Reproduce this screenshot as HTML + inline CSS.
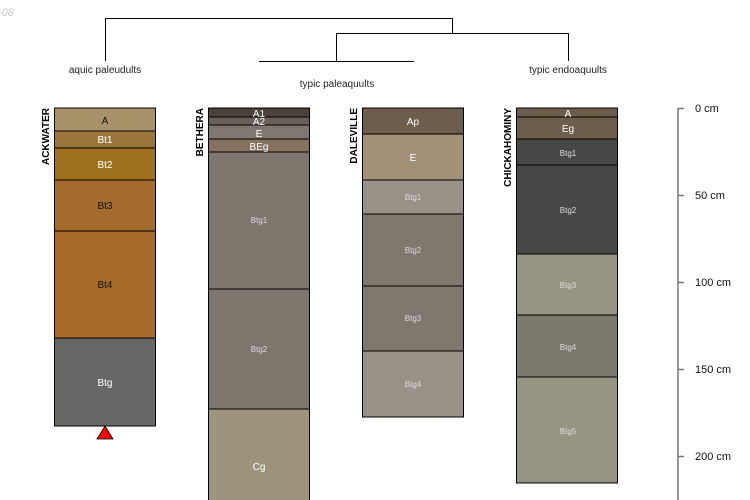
<!DOCTYPE html>
<html><head><meta charset="utf-8"><style>html,body{margin:0;padding:0;background:#fff}svg{display:block}</style></head>
<body>
<svg width="750" height="500" viewBox="0 0 750 500" xmlns="http://www.w3.org/2000/svg" font-family="Liberation Sans, sans-serif">
<text x="-2" y="16" font-size="11" fill="#c8c8c8" font-style="italic">-08</text>
<g stroke="#000" stroke-width="1" fill="none">
<path d="M105.5 61V18.5H452.5V33"/>
<path d="M336.5 61V33.5H568.5V61"/>
<path d="M259 61.5H414"/>
</g>
<g font-size="10" fill="#222" text-anchor="middle">
<text x="105" y="73">aquic paleudults</text>
<text x="337" y="87">typic paleaquults</text>
<text x="568" y="73">typic endoaquults</text>
</g>
<g stroke="#000" stroke-width="1">
<!-- ACKWATER -->
<rect x="54.5" y="108" width="101" height="23" fill="#a8926a"/>
<rect x="54.5" y="131" width="101" height="17" fill="#9a763c"/>
<rect x="54.5" y="148" width="101" height="32" fill="#a0711e"/>
<rect x="54.5" y="180" width="101" height="51" fill="#a46c2c"/>
<rect x="54.5" y="231" width="101" height="107" fill="#a86c2a"/>
<rect x="54.5" y="338" width="101" height="88" fill="#676866"/>
<!-- BETHERA -->
<rect x="208.5" y="108" width="101" height="9" fill="#4b433b"/>
<rect x="208.5" y="117" width="101" height="8" fill="#6a6055"/>
<rect x="208.5" y="125" width="101" height="14" fill="#807870"/>
<rect x="208.5" y="139" width="101" height="13" fill="#85735f"/>
<rect x="208.5" y="152" width="101" height="137" fill="#7f776e"/>
<rect x="208.5" y="289" width="101" height="120" fill="#7f776e"/>
<rect x="208.5" y="409" width="101" height="95" fill="#9e937b"/>
<!-- DALEVILLE -->
<rect x="362.5" y="108" width="101" height="26" fill="#6c5d4c"/>
<rect x="362.5" y="134" width="101" height="46" fill="#a29079"/>
<rect x="362.5" y="180" width="101" height="34" fill="#9a9286"/>
<rect x="362.5" y="214" width="101" height="72" fill="#80776d"/>
<rect x="362.5" y="286" width="101" height="65" fill="#80776d"/>
<rect x="362.5" y="351" width="101" height="66" fill="#9a9286"/>
<!-- CHICKAHOMINY -->
<rect x="516.5" y="108" width="101" height="9" fill="#6c5e4a"/>
<rect x="516.5" y="117" width="101" height="22" fill="#6c5e4a"/>
<rect x="516.5" y="139" width="101" height="26" fill="#464846"/>
<rect x="516.5" y="165" width="101" height="89" fill="#464846"/>
<rect x="516.5" y="254" width="101" height="61" fill="#979484"/>
<rect x="516.5" y="315" width="101" height="62" fill="#7b786c"/>
<rect x="516.5" y="377" width="101" height="106" fill="#979484"/>
</g>
<polygon points="105,426 113,439 97,439" fill="#f00" stroke="#000" stroke-width="0.8"/>
<g text-anchor="middle" font-size="10">
<text x="105" y="124" fill="#111">A</text>
<text x="105" y="143" fill="#fff">Bt1</text>
<text x="105" y="168" fill="#fff">Bt2</text>
<text x="105" y="209" fill="#111">Bt3</text>
<text x="105" y="288" fill="#111">Bt4</text>
<text x="105" y="386" fill="#fff">Btg</text>
<text x="259" y="117" fill="#fff">A1</text>
<text x="259" y="125" fill="#fff">A2</text>
<text x="259" y="137" fill="#fff">E</text>
<text x="259" y="150" fill="#fff">BEg</text>
<text x="259" y="470" fill="#fff">Cg</text>
<text x="413" y="125" fill="#fff">Ap</text>
<text x="413" y="161" fill="#fff">E</text>
<text x="568" y="117" fill="#fff">A</text>
<text x="568" y="132" fill="#fff">Eg</text>
</g>
<g text-anchor="middle" font-size="8" fill="#ddd">
<text x="259" y="223">Btg1</text>
<text x="259" y="352">Btg2</text>
<text x="413" y="200">Btg1</text>
<text x="413" y="253">Btg2</text>
<text x="413" y="321">Btg3</text>
<text x="413" y="387">Btg4</text>
<text x="568" y="156">Btg1</text>
<text x="568" y="213">Btg2</text>
<text x="568" y="288">Btg3</text>
<text x="568" y="350">Btg4</text>
<text x="568" y="434">Btg5</text>
</g>
<g font-size="10" font-weight="bold" fill="#000" text-anchor="end">
<text transform="translate(49,108) rotate(-90)">ACKWATER</text>
<text transform="translate(203,108) rotate(-90)">BETHERA</text>
<text transform="translate(357,108) rotate(-90)">DALEVILLE</text>
<text transform="translate(511,108) rotate(-90)">CHICKAHOMINY</text>
</g>
<g stroke="#777" stroke-width="1.5">
<line x1="678" y1="108" x2="678" y2="500"/>
<line x1="678" y1="108.5" x2="684" y2="108.5"/>
<line x1="678" y1="195.5" x2="684" y2="195.5"/>
<line x1="678" y1="282.5" x2="684" y2="282.5"/>
<line x1="678" y1="369.5" x2="684" y2="369.5"/>
<line x1="678" y1="456.5" x2="684" y2="456.5"/>
</g>
<g font-size="11" fill="#111">
<text x="695" y="112">0 cm</text>
<text x="695" y="199">50 cm</text>
<text x="695" y="286">100 cm</text>
<text x="695" y="373">150 cm</text>
<text x="695" y="460">200 cm</text>
</g>
</svg>
</body></html>
